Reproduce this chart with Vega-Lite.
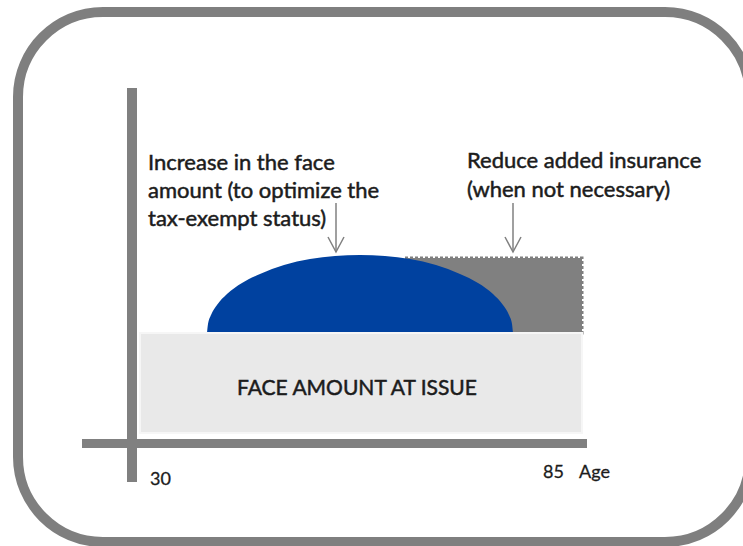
{
  "$schema": "https://vega.github.io/schema/vega-lite/v6.json",
  "width": 743,
  "height": 546,
  "autosize": {"type": "fit", "contains": "padding"},
  "padding": 0,
  "background": "white",
  "config": {"view": {"stroke": null}},
  "datasets": {
    "frame": [{"x": 18, "x2": 750, "y": 12, "y2": 542}],
    "base": [{"x": 140, "x2": 582, "y": 333, "y2": 433, "label": "FACE AMOUNT AT ISSUE"}],
    "extra": [{"x": 405, "x2": 582, "y": 258, "y2": 333}],
    "bump": [
      {"x": 207, "y": 333},
      {"x": 208, "y": 324},
      {"x": 211, "y": 315},
      {"x": 217, "y": 305},
      {"x": 227, "y": 294},
      {"x": 242, "y": 283},
      {"x": 260, "y": 274},
      {"x": 284, "y": 265},
      {"x": 310, "y": 259},
      {"x": 335, "y": 256},
      {"x": 360, "y": 255},
      {"x": 385, "y": 256},
      {"x": 410, "y": 259},
      {"x": 436, "y": 265},
      {"x": 460, "y": 274},
      {"x": 478, "y": 283},
      {"x": 493, "y": 294},
      {"x": 503, "y": 305},
      {"x": 509, "y": 315},
      {"x": 512, "y": 324},
      {"x": 513, "y": 333}
    ],
    "axes": [
      {"axis": "vertical", "x": 132, "x2": 132, "y": 88, "y2": 482},
      {"axis": "horizontal", "x": 82, "x2": 587, "y": 443.5, "y2": 443.5}
    ],
    "arrows": [
      {"arrow": "a1", "x": 336, "x2": 336, "y": 203, "y2": 252},
      {"arrow": "a2", "x": 513, "x2": 513, "y": 203, "y2": 252}
    ],
    "heads": [
      {"seg": "h1", "o": 1, "x": 328, "y": 237},
      {"seg": "h1", "o": 2, "x": 336, "y": 252},
      {"seg": "h1", "o": 3, "x": 344, "y": 237},
      {"seg": "h2", "o": 1, "x": 505, "y": 237},
      {"seg": "h2", "o": 2, "x": 513, "y": 252},
      {"seg": "h2", "o": 3, "x": 521, "y": 237}
    ],
    "notes": [
      {"x": 148, "y": 170, "t": "Increase in the face"},
      {"x": 148, "y": 198, "t": "amount (to optimize the"},
      {"x": 148, "y": 226, "t": "tax-exempt status)"},
      {"x": 467, "y": 168, "t": "Reduce added insurance"},
      {"x": 467, "y": 197, "t": "(when not necessary)"}
    ],
    "ticks": [
      {"x": 150, "y": 485, "t": "30"},
      {"x": 543, "y": 478, "t": "85"},
      {"x": 579, "y": 478, "t": "Age"}
    ]
  },
  "layer": [
    {
      "data": {"name": "frame"},
      "mark": {"type": "rect", "fill": null, "stroke": "#7f7f7f", "strokeWidth": 10, "cornerRadius": 85, "clip": true},
      "encoding": {
        "x": {"field": "x", "type": "quantitative", "scale": {"domain": [0, 743], "nice": false, "zero": false}, "axis": null},
        "x2": {"field": "x2"},
        "y": {"field": "y", "type": "quantitative", "scale": {"domain": [0, 546], "nice": false, "zero": false, "reverse": true}, "axis": null},
        "y2": {"field": "y2"}
      }
    },
    {
      "data": {"name": "extra"},
      "mark": {"type": "rect", "fill": "#808080", "stroke": "#7f7f7f", "strokeWidth": 3, "strokeDash": [3, 2]},
      "encoding": {
        "x": {"field": "x", "type": "quantitative"},
        "x2": {"field": "x2"},
        "y": {"field": "y", "type": "quantitative"},
        "y2": {"field": "y2"}
      }
    },
    {
      "data": {"name": "bump"},
      "mark": {"type": "area", "color": "#00419f", "interpolate": "monotone", "orient": "vertical"},
      "encoding": {
        "x": {"field": "x", "type": "quantitative"},
        "y": {"field": "y", "type": "quantitative"},
        "y2": {"datum": 333}
      }
    },
    {
      "data": {"name": "base"},
      "mark": {"type": "rect", "fill": "#e9e9e9", "stroke": "#f6f6f6", "strokeWidth": 2},
      "encoding": {
        "x": {"field": "x", "type": "quantitative"},
        "x2": {"field": "x2"},
        "y": {"field": "y", "type": "quantitative"},
        "y2": {"field": "y2"}
      }
    },
    {
      "data": {"name": "base"},
      "mark": {"type": "text", "font": "Lato", "fontSize": 21, "color": "#1c1c1c", "stroke": "#1c1c1c", "strokeWidth": 0.5, "align": "center", "baseline": "middle"},
      "encoding": {
        "x": {"datum": 357, "type": "quantitative"},
        "y": {"datum": 389, "type": "quantitative"},
        "text": {"field": "label"}
      }
    },
    {
      "data": {"name": "axes"},
      "mark": {"type": "rule", "color": "#808080"},
      "encoding": {
        "x": {"field": "x", "type": "quantitative"},
        "x2": {"field": "x2"},
        "y": {"field": "y", "type": "quantitative"},
        "y2": {"field": "y2"},
        "strokeWidth": {"field": "axis", "type": "nominal", "scale": {"domain": ["vertical", "horizontal"], "range": [10, 9]}, "legend": null}
      }
    },
    {
      "data": {"name": "arrows"},
      "mark": {"type": "rule", "color": "#808080", "strokeWidth": 1.5},
      "encoding": {
        "x": {"field": "x", "type": "quantitative"},
        "x2": {"field": "x2"},
        "y": {"field": "y", "type": "quantitative"},
        "y2": {"field": "y2"}
      }
    },
    {
      "data": {"name": "heads"},
      "mark": {"type": "line", "color": "#808080", "strokeWidth": 1.5},
      "encoding": {
        "x": {"field": "x", "type": "quantitative"},
        "y": {"field": "y", "type": "quantitative"},
        "detail": {"field": "seg"},
        "order": {"field": "o"}
      }
    },
    {
      "data": {"name": "notes"},
      "mark": {"type": "text", "font": "Lato", "fontSize": 22, "color": "#1c1c1c", "stroke": "#1c1c1c", "strokeWidth": 0.5, "align": "left", "baseline": "alphabetic"},
      "encoding": {
        "x": {"field": "x", "type": "quantitative"},
        "y": {"field": "y", "type": "quantitative"},
        "text": {"field": "t"}
      }
    },
    {
      "data": {"name": "ticks"},
      "mark": {"type": "text", "font": "Lato", "fontSize": 18, "color": "#1c1c1c", "stroke": "#1c1c1c", "strokeWidth": 0.3, "align": "left", "baseline": "alphabetic"},
      "encoding": {
        "x": {"field": "x", "type": "quantitative"},
        "y": {"field": "y", "type": "quantitative"},
        "text": {"field": "t"}
      }
    }
  ]
}
